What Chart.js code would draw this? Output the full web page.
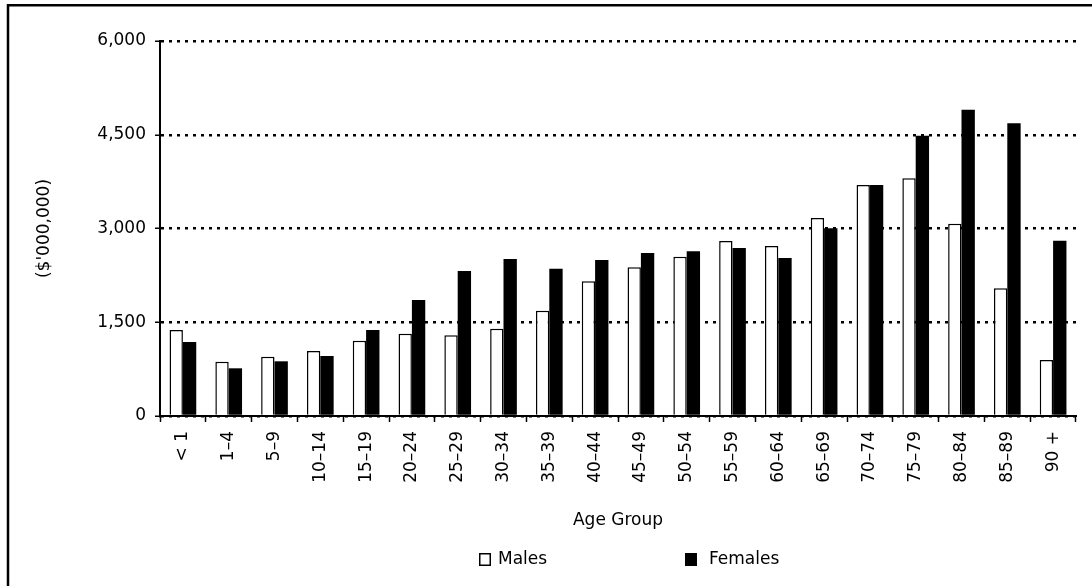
<!DOCTYPE html>
<html>
<head>
<meta charset="utf-8">
<script src="https://cdn.jsdelivr.net/npm/chart.js@4/dist/chart.umd.min.js"></script>
<style>
html,body{margin:0;padding:0;background:#fff;}
#wrap{position:relative;width:1092px;height:586px;overflow:hidden;}
</style>
</head>
<body>
<div id="wrap"><canvas id="c" width="1092" height="586"></canvas></div>
<script>
const categories = ['< 1','1–4','5–9','10–14','15–19','20–24','25–29','30–34','35–39','40–44','45–49','50–54','55–59','60–64','65–69','70–74','75–79','80–84','85–89','90 +'];
const males   = [1376, 869, 949, 1040, 1205, 1317, 1291, 1397, 1685, 2155, 2379, 2549, 2800, 2720, 3168, 3696, 3803, 3077, 2043, 896];
const females = [1184, 763, 875, 960, 1376, 1856, 2320, 2512, 2357, 2496, 2608, 2635, 2688, 2528, 3003, 3696, 4485, 4901, 4683, 2805];
const yTickValues = [0, 1500, 3000, 4500, 6000];
const yTickLabels = ['0', '1,500', '3,000', '4,500', '6,000'];
const seriesNames = ['Males', 'Females'];
const xTitle = 'Age Group';
const yTitle = "($'000,000)";

const FONT = 'DejaVu Sans';
Chart.defaults.color = '#000';
Chart.defaults.font.family = FONT;
Chart.defaults.font.size = 17;

const framePlugin = {
  id: 'frameLegend',
  afterDraw(chart) {
    const ctx = chart.ctx;
    const a = chart.chartArea;
    ctx.save();
    // outer frame (left and top edges)
    ctx.strokeStyle = '#000';
    ctx.lineWidth = 2.5;
    ctx.beginPath();
    ctx.moveTo(8, chart.height);
    ctx.lineTo(8, 5.3);
    ctx.lineTo(chart.width, 5.3);
    ctx.stroke();
    // legend
    const cx = (a.left + a.right) / 2;
    const boxOffsets = [-139, 67];
    const textGaps = [19, 24];
    const y = 553;
    ctx.font = '17px "' + FONT + '"';
    ctx.textBaseline = 'middle';
    ctx.textAlign = 'left';
    chart.data.datasets.forEach((ds, i) => {
      const bx = cx + boxOffsets[i];
      ctx.fillStyle = ds.backgroundColor;
      ctx.fillRect(bx, y, 12, 13);
      ctx.strokeStyle = '#000';
      ctx.lineWidth = 1.5;
      ctx.strokeRect(bx + 0.75, y + 0.75, 10.5, 11.5);
      ctx.fillStyle = '#000';
      ctx.fillText(ds.label, bx + textGaps[i], y + 7);
    });
    ctx.restore();
  }
};

new Chart(document.getElementById('c'), {
  type: 'bar',
  data: {
    labels: categories,
    datasets: [
      { label: seriesNames[0], data: males, backgroundColor: '#ffffff', borderColor: '#000000', borderWidth: 1.5, borderSkipped: 'bottom' },
      { label: seriesNames[1], data: females, backgroundColor: '#000000', borderColor: '#000000', borderWidth: 0 }
    ]
  },
  options: {
    responsive: false,
    animation: false,
    devicePixelRatio: 1,
    categoryPercentage: 0.583,
    barPercentage: 1.0,
    layout: { padding: { left: 0, right: 16, top: 41, bottom: 51 } },
    plugins: {
      legend: { display: false },
      tooltip: { enabled: false }
    },
    scales: {
      x: {
        offset: true,
        grid: { display: true, drawOnChartArea: false, drawTicks: true, tickLength: 6, color: '#000', tickWidth: 1.5, offset: true },
        border: { display: true, color: '#000', width: 2 },
        ticks: { minRotation: 90, maxRotation: 90, padding: 9, autoSkip: false, font: { size: 17 } },
        title: { display: true, text: xTitle, padding: { top: 4, bottom: 4 }, font: { size: 17 } },
        afterFit(scale) { scale.height = 119; }
      },
      y: {
        min: 0,
        max: 6000,
        afterBuildTicks(scale) { scale.ticks = yTickValues.map(v => ({ value: v })); },
        grid: { color: '#000', lineWidth: 2.5, tickLength: 5, tickColor: '#000', tickWidth: 1.5, tickBorderDash: [] },
        border: { display: true, color: '#000', width: 2, dash: [3, 5] },
        ticks: {
          padding: 9,
          font: { size: 17 },
          callback: (v) => { const i = yTickValues.indexOf(v); return i >= 0 ? yTickLabels[i] : ''; }
        },
        title: { display: true, text: yTitle, padding: { top: 34, bottom: 4 }, font: { size: 17 } },
        afterFit(scale) { scale.width = 160; }
      }
    }
  },
  plugins: [framePlugin]
});
</script>
</body>
</html>
